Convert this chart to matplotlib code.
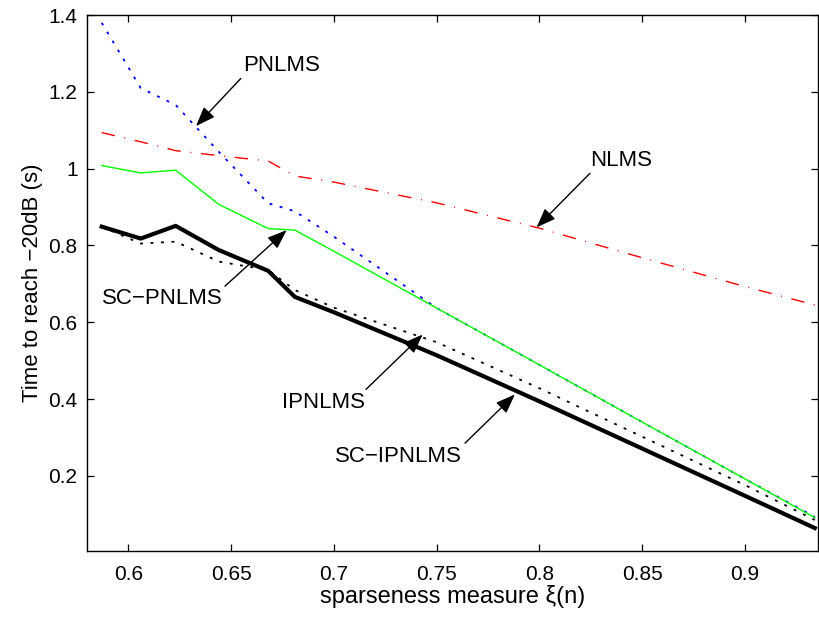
import matplotlib
matplotlib.use('Agg')
import matplotlib.pyplot as plt

plt.rcParams['font.family'] = ['Liberation Sans', 'DejaVu Sans']

# sparseness measure values (x) shared by all curves
xi = [0.587, 0.606, 0.623, 0.644, 0.668, 0.681, 0.70, 0.75, 0.80, 0.85, 0.90, 0.934]

# time to reach -20 dB (s)
nlms      = [1.094, 1.070, 1.047, 1.034, 1.020, 0.981, 0.965, 0.911, 0.845, 0.768, 0.693, 0.645]
pnlms     = [1.380, 1.210, 1.166, 1.044, 0.910, 0.889, 0.823, 0.637, 0.489, 0.340, 0.192, 0.093]
sc_pnlms  = [1.008, 0.989, 0.996, 0.907, 0.844, 0.840, 0.785, 0.637, 0.489, 0.340, 0.192, 0.091]
ipnlms    = [0.849, 0.805, 0.810, 0.758, 0.736, 0.684, 0.638, 0.548, 0.428, 0.302, 0.176, 0.085]
sc_ipnlms = [0.849, 0.818, 0.851, 0.788, 0.734, 0.666, 0.626, 0.514, 0.394, 0.271, 0.148, 0.064]

fig = plt.figure(figsize=(8.19, 6.17), dpi=100)
ax = fig.add_axes([0.1066, 0.1075, 0.892, 0.868])

ax.plot(xi, nlms, color='red', lw=1.0, dashes=(9.7, 7, 0.7, 7))
ax.plot(xi, pnlms, color='blue', lw=1.3, dashes=(1.6, 4.2))
ax.plot(xi, sc_pnlms, color='#00ff00', lw=1.0)
ax.plot(xi, ipnlms, color='black', lw=1.3, dashes=(1.6, 4.2))
ax.plot(xi, sc_ipnlms, color='black', lw=3.0)

ax.set_xlim(0.58, 0.9355)
ax.set_ylim(0.005, 1.4)
ax.set_xticks([0.6, 0.65, 0.7, 0.75, 0.8, 0.85, 0.9])
ax.set_xticklabels(['0.6', '0.65', '0.7', '0.75', '0.8', '0.85', '0.9'])
ax.set_yticks([0.2, 0.4, 0.6, 0.8, 1.0, 1.2, 1.4])
ax.set_yticklabels(['0.2', '0.4', '0.6', '0.8', '1', '1.2', '1.4'])
ax.tick_params(axis='x', pad=10)
ax.tick_params(axis='y', pad=7)
ax.tick_params(direction='in', length=5, width=0.9, top=True, right=True,
               labelsize=15)
for s in ax.spines.values():
    s.set_linewidth(1.0)

ax.set_xlabel('sparseness measure ξ(n)', fontsize=17, labelpad=1)
ax.set_ylabel('Time to reach \u221220dB (s)', fontsize=16, labelpad=4)

# annotations: (label, text position, arrow start, arrow tip)
notes = [
    ('PNLMS', (0.6743, 1.270), (0.6547, 1.235), (0.6329, 1.111)),
    ('NLMS', (0.8396, 1.022), (0.8246, 0.988), (0.7986, 0.847)),
    ('SC\u2212PNLMS', (0.6166, 0.663), (0.6470, 0.694), (0.6770, 0.840)),
    ('IPNLMS', (0.6947, 0.390), (0.7156, 0.425), (0.7432, 0.568)),
    ('SC\u2212IPNLMS', (0.7312, 0.249), (0.7638, 0.285), (0.7881, 0.412)),
]
for label, tpos, start, tip in notes:
    ax.text(tpos[0], tpos[1], label, fontsize=16, ha='center', va='center')
    ax.annotate('', xy=tip, xytext=start,
                arrowprops=dict(arrowstyle='-|>,head_length=0.85,head_width=0.32',
                                color='black', lw=1.0, shrinkA=0, shrinkB=0,
                                mutation_scale=14))

fig.savefig('out.png', dpi=100)
